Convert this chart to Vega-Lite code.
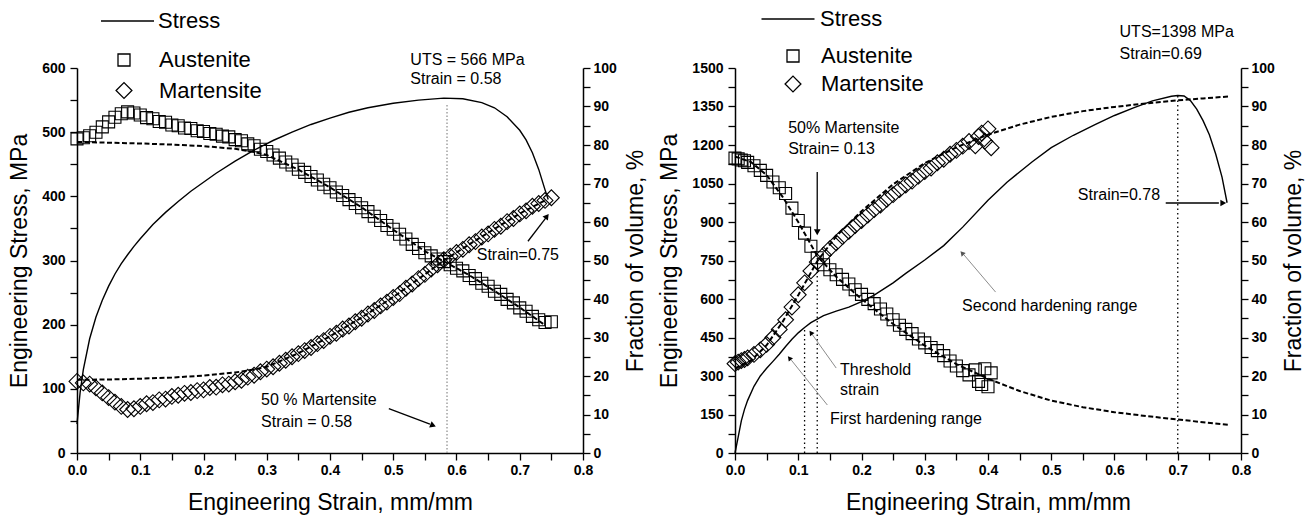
{
  "$schema": "https://vega.github.io/schema/vega-lite/v6.json",
  "background": "white",
  "padding": {"left": 8, "top": 7, "right": 5, "bottom": 5},
  "spacing": 10,
  "config": {
    "view": {"stroke": null},
    "font": "Liberation Sans",
    "axis": {"domainColor": "black", "domainWidth": 1.5, "tickColor": "black", "tickWidth": 1.3, "tickSize": 7, "tickCount": 100, "labelFont": "Liberation Sans", "labelFontSize": 14, "labelFontWeight": "bold", "labelColor": "black", "titleFont": "Liberation Sans", "titleFontSize": 23, "titleFontWeight": "normal", "titleColor": "black", "grid": false, "labelOverlap": false, "labelFlush": false},
    "legend": {"labelFont": "Liberation Sans", "labelFontSize": 22, "labelColor": "black", "padding": 0},
    "text": {"font": "Liberation Sans", "fontSize": 16, "color": "black"}
  },
  "datasets": {
    "stressL": [
      {"s":0,"v":45},{"s":0.005,"v":95},{"s":0.01,"v":130},{"s":0.02,"v":178},{"s":0.03,"v":212},{"s":0.04,"v":238},{"s":0.05,"v":260},{"s":0.06,"v":279},{"s":0.07,"v":295},{"s":0.08,"v":309},{"s":0.09,"v":322},{"s":0.10,"v":334},{"s":0.12,"v":356},{"s":0.14,"v":375},{"s":0.16,"v":392},{"s":0.18,"v":408},{"s":0.20,"v":422},{"s":0.22,"v":436},{"s":0.25,"v":455},{"s":0.28,"v":472},{"s":0.31,"v":487},{"s":0.34,"v":500},{"s":0.37,"v":512},{"s":0.40,"v":522},{"s":0.43,"v":531},{"s":0.46,"v":538},{"s":0.50,"v":545},{"s":0.54,"v":550},{"s":0.58,"v":553},{"s":0.61,"v":552},{"s":0.64,"v":546},{"s":0.66,"v":538},{"s":0.68,"v":524},{"s":0.70,"v":503},{"s":0.71,"v":488},{"s":0.72,"v":468},{"s":0.73,"v":442},{"s":0.74,"v":410},{"s":0.745,"v":395}
    ],
    "phaseL": [
      {"s":0.00,"Austenite":81.6,"Martensite":18.6},{"s":0.01,"Austenite":81.9,"Martensite":18.2},{"s":0.02,"Austenite":82.4,"Martensite":17.9},{"s":0.03,"Austenite":83.3,"Martensite":16.9},{"s":0.04,"Austenite":84.7,"Martensite":15.6},{"s":0.05,"Austenite":86.0,"Martensite":14.4},{"s":0.06,"Austenite":87.2,"Martensite":13.2},{"s":0.07,"Austenite":88.1,"Martensite":12.1},{"s":0.08,"Austenite":88.6,"Martensite":11.3},{"s":0.09,"Austenite":88.3,"Martensite":11.5},
      {"s":0.10,"Austenite":87.8,"Martensite":12.1},{"s":0.11,"Austenite":87.1,"Martensite":12.8},{"s":0.12,"Austenite":86.8,"Martensite":13.1},{"s":0.13,"Austenite":86.1,"Martensite":13.8},{"s":0.14,"Austenite":85.9,"Martensite":14.0},{"s":0.15,"Austenite":85.2,"Martensite":14.7},{"s":0.16,"Austenite":85.0,"Martensite":15.0},{"s":0.17,"Austenite":84.4,"Martensite":15.5},{"s":0.18,"Austenite":84.3,"Martensite":15.7},{"s":0.19,"Austenite":83.7,"Martensite":16.2},
      {"s":0.20,"Austenite":83.5,"Martensite":16.4},{"s":0.21,"Austenite":83.0,"Martensite":17.0},{"s":0.22,"Austenite":82.8,"Martensite":17.1},{"s":0.23,"Austenite":82.3,"Martensite":17.7},{"s":0.24,"Austenite":82.1,"Martensite":17.9},{"s":0.25,"Austenite":81.4,"Martensite":18.5},{"s":0.26,"Austenite":81.1,"Martensite":18.9},{"s":0.27,"Austenite":80.3,"Martensite":19.7},{"s":0.28,"Austenite":79.8,"Martensite":20.2},{"s":0.29,"Austenite":78.9,"Martensite":21.1},
      {"s":0.30,"Austenite":78.3,"Martensite":21.8},{"s":0.31,"Austenite":77.4,"Martensite":22.4},{"s":0.32,"Austenite":76.6,"Martensite":23.3},{"s":0.33,"Austenite":75.6,"Martensite":24.1},{"s":0.34,"Austenite":74.8,"Martensite":25.0},{"s":0.35,"Austenite":73.7,"Martensite":25.8},{"s":0.36,"Austenite":72.9,"Martensite":26.6},{"s":0.37,"Austenite":71.8,"Martensite":27.4},{"s":0.38,"Austenite":70.9,"Martensite":28.4},{"s":0.39,"Austenite":69.8,"Martensite":29.2},
      {"s":0.40,"Austenite":68.9,"Martensite":30.3},{"s":0.41,"Austenite":67.8,"Martensite":31.1},{"s":0.42,"Austenite":66.9,"Martensite":32.2},{"s":0.43,"Austenite":65.8,"Martensite":33.0},{"s":0.44,"Austenite":64.8,"Martensite":34.1},{"s":0.45,"Austenite":63.7,"Martensite":35.0},{"s":0.46,"Austenite":62.7,"Martensite":36.1},{"s":0.47,"Austenite":61.5,"Martensite":37.0},{"s":0.48,"Austenite":60.4,"Martensite":38.2},{"s":0.49,"Austenite":59.1,"Martensite":39.2},
      {"s":0.50,"Austenite":58.1,"Martensite":40.4},{"s":0.51,"Austenite":56.8,"Martensite":41.4},{"s":0.52,"Austenite":55.6,"Martensite":42.8},{"s":0.53,"Austenite":54.2,"Martensite":43.9},{"s":0.54,"Austenite":53.1,"Martensite":45.3},{"s":0.55,"Austenite":52.0,"Martensite":46.4},{"s":0.56,"Austenite":51.2,"Martensite":47.8},{"s":0.57,"Austenite":50.4,"Martensite":48.9},{"s":0.58,"Austenite":49.7,"Martensite":50.2},{"s":0.59,"Austenite":48.9,"Martensite":51.1},
      {"s":0.60,"Austenite":48.0,"Martensite":52.1},{"s":0.61,"Austenite":47.3,"Martensite":52.9},{"s":0.62,"Austenite":46.1,"Martensite":54.1},{"s":0.63,"Austenite":45.3,"Martensite":54.9},{"s":0.64,"Austenite":44.1,"Martensite":56.1},{"s":0.65,"Austenite":43.3,"Martensite":56.9},{"s":0.66,"Austenite":42.0,"Martensite":58.1},{"s":0.67,"Austenite":41.2,"Martensite":58.9},{"s":0.68,"Austenite":39.9,"Martensite":60.1},{"s":0.69,"Austenite":39.0,"Martensite":60.9},
      {"s":0.70,"Austenite":37.7,"Martensite":62.1},{"s":0.71,"Austenite":36.8,"Martensite":62.9},{"s":0.72,"Austenite":35.5,"Martensite":64.1},{"s":0.73,"Austenite":34.6,"Martensite":64.8},{"s":0.74,"Austenite":33.9,"Martensite":65.6},{"s":0.75,"Austenite":34.1,"Martensite":66.3}
    ],
    "fitL": [
      {"s":0.00,"Austenite":80.8,"Martensite":19.0},{"s":0.05,"Austenite":80.6,"Martensite":19.1},{"s":0.10,"Austenite":80.4,"Martensite":19.3},{"s":0.15,"Austenite":80.1,"Martensite":19.6},{"s":0.20,"Austenite":79.7,"Martensite":20.1},{"s":0.25,"Austenite":79.0,"Martensite":20.9},{"s":0.28,"Austenite":78.2,"Martensite":21.7},{"s":0.30,"Austenite":77.4,"Martensite":22.4},{"s":0.35,"Austenite":73.6,"Martensite":25.9},{"s":0.40,"Austenite":69.0,"Martensite":30.3},{"s":0.45,"Austenite":63.8,"Martensite":35.2},{"s":0.50,"Austenite":58.0,"Martensite":40.5},{"s":0.55,"Austenite":52.4,"Martensite":46.4},{"s":0.58,"Austenite":49.8,"Martensite":50.0},{"s":0.62,"Austenite":46.2,"Martensite":54.2},{"s":0.66,"Austenite":42.1,"Martensite":58.2},{"s":0.70,"Austenite":37.8,"Martensite":62.2},{"s":0.74,"Austenite":33.2,"Martensite":65.6}
    ],
    "stressR": [
      {"s":0,"v":0},{"s":0.005,"v":62},{"s":0.01,"v":125},{"s":0.015,"v":170},{"s":0.02,"v":205},{"s":0.03,"v":260},{"s":0.04,"v":300},{"s":0.05,"v":330},{"s":0.06,"v":357},{"s":0.07,"v":385},{"s":0.08,"v":415},{"s":0.09,"v":443},{"s":0.10,"v":468},{"s":0.11,"v":489},{"s":0.12,"v":508},{"s":0.13,"v":522},{"s":0.14,"v":535},{"s":0.16,"v":553},{"s":0.18,"v":568},{"s":0.20,"v":590},{"s":0.22,"v":615},{"s":0.25,"v":663},{"s":0.27,"v":700},{"s":0.30,"v":752},{"s":0.33,"v":808},{"s":0.36,"v":880},{"s":0.40,"v":985},{"s":0.43,"v":1055},{"s":0.47,"v":1135},{"s":0.50,"v":1190},{"s":0.535,"v":1238},{"s":0.57,"v":1280},{"s":0.60,"v":1315},{"s":0.63,"v":1345},{"s":0.66,"v":1372},{"s":0.69,"v":1390},{"s":0.70,"v":1393},{"s":0.71,"v":1391},{"s":0.72,"v":1373},{"s":0.73,"v":1340},{"s":0.74,"v":1295},{"s":0.75,"v":1240},{"s":0.76,"v":1165},{"s":0.77,"v":1075},{"s":0.778,"v":975}
    ],
    "phaseR": [
      {"s":0.000,"Austenite":76.6,"Martensite":23.2},{"s":0.005,"Austenite":76.4,"Martensite":23.6},{"s":0.010,"Austenite":76.1,"Martensite":24.0},{"s":0.015,"Austenite":75.9,"Martensite":24.3},{"s":0.020,"Austenite":75.5,"Martensite":24.7},{"s":0.030,"Austenite":74.6,"Martensite":25.6},{"s":0.040,"Austenite":73.4,"Martensite":26.8},{"s":0.050,"Austenite":72.1,"Martensite":28.2},{"s":0.060,"Austenite":70.4,"Martensite":30.0},{"s":0.070,"Austenite":68.9,"Martensite":32.1},
      {"s":0.080,"Austenite":67.4,"Martensite":34.6},{"s":0.090,"Austenite":63.6,"Martensite":37.9},{"s":0.100,"Austenite":60.4,"Martensite":41.1},{"s":0.110,"Austenite":57.1,"Martensite":44.2},{"s":0.120,"Austenite":53.7,"Martensite":47.3},{"s":0.130,"Austenite":50.7,"Martensite":49.6},{"s":0.140,"Austenite":48.9,"Martensite":51.4},{"s":0.150,"Austenite":47.6,"Martensite":53.1},{"s":0.160,"Austenite":46.3,"Martensite":54.6},{"s":0.170,"Austenite":45.1,"Martensite":56.2},
      {"s":0.180,"Austenite":43.9,"Martensite":57.6},{"s":0.190,"Austenite":42.4,"Martensite":59.1},{"s":0.200,"Austenite":41.2,"Martensite":60.4},{"s":0.210,"Austenite":39.9,"Martensite":61.8},{"s":0.220,"Austenite":38.8,"Martensite":63.2},{"s":0.230,"Austenite":37.4,"Martensite":64.4},{"s":0.240,"Austenite":36.1,"Martensite":65.9},{"s":0.250,"Austenite":34.6,"Martensite":67.1},{"s":0.260,"Austenite":33.2,"Martensite":68.4},{"s":0.270,"Austenite":32.1,"Martensite":69.6},
      {"s":0.280,"Austenite":31.0,"Martensite":70.6},{"s":0.290,"Austenite":29.6,"Martensite":71.9},{"s":0.300,"Austenite":28.6,"Martensite":73.1},{"s":0.310,"Austenite":27.4,"Martensite":74.0},{"s":0.320,"Austenite":26.6,"Martensite":75.4},{"s":0.330,"Austenite":25.3,"Martensite":76.3},{"s":0.340,"Austenite":23.9,"Martensite":77.6},{"s":0.350,"Austenite":22.6,"Martensite":78.6},{"s":0.360,"Austenite":21.4,"Martensite":79.7},{"s":0.370,"Austenite":20.3,"Martensite":80.9},
      {"s":0.380,"Austenite":21.6,"Martensite":79.8},{"s":0.385,"Austenite":18.6,"Martensite":82.2},{"s":0.390,"Austenite":17.8,"Martensite":83.1},{"s":0.395,"Austenite":21.9,"Martensite":81.0},{"s":0.400,"Austenite":17.2,"Martensite":84.2},{"s":0.405,"Austenite":20.8,"Martensite":79.3}
    ],
    "fitR": [
      {"s":0.000,"Austenite":77.0,"Martensite":22.0},{"s":0.025,"Austenite":75.6,"Martensite":24.0},{"s":0.050,"Austenite":72.2,"Martensite":28.0},{"s":0.075,"Austenite":66.6,"Martensite":34.0},{"s":0.100,"Austenite":60.0,"Martensite":41.0},{"s":0.130,"Austenite":51.2,"Martensite":49.8},{"s":0.160,"Austenite":45.8,"Martensite":56.3},{"s":0.200,"Austenite":40.0,"Martensite":62.8},{"s":0.250,"Austenite":33.5,"Martensite":69.8},{"s":0.300,"Austenite":27.9,"Martensite":75.3},{"s":0.350,"Austenite":23.1,"Martensite":79.4},{"s":0.400,"Austenite":19.3,"Martensite":82.7},{"s":0.450,"Austenite":16.1,"Martensite":85.3},{"s":0.500,"Austenite":13.6,"Martensite":87.3},{"s":0.550,"Austenite":11.9,"Martensite":88.8},{"s":0.600,"Austenite":10.6,"Martensite":89.9},{"s":0.650,"Austenite":9.6,"Martensite":90.8},{"s":0.700,"Austenite":8.7,"Martensite":91.6},{"s":0.740,"Austenite":8.0,"Martensite":92.1},{"s":0.780,"Austenite":7.3,"Martensite":92.6}
    ]
  },
  "resolve": {"scale": {"color": "independent", "shape": "independent", "size": "independent"}},
  "hconcat": [
    {
      "width": 506,
      "height": 385,
      "resolve": {"scale": {"y": "independent"}},
      "layer": [
        {
          "layer": [
            {
              "data": {"name": "stressL"},
              "mark": {"type": "line", "strokeWidth": 1.4},
              "encoding": {
                "x": {"field": "s", "type": "quantitative", "scale": {"domain": [0, 0.8], "nice": false},
                  "axis": {"title": "Engineering Strain, mm/mm", "values": [0,0.05,0.1,0.15,0.2,0.25,0.3,0.35,0.4,0.45,0.5,0.55,0.6,0.65,0.7,0.75,0.8], "tickCount": 100, "format": ".1f", "labelExpr": "round(datum.value*20)%2==0 ? datum.label : ''", "labelOverlap": false, "labelPadding": 3, "titlePadding": 14,
                    "encode": {"ticks": {"update": {"y2": {"signal": "round(datum.value*20)%2==1 ? 4 : 7"}}}}}},
                "y": {"field": "v", "type": "quantitative", "scale": {"domain": [0, 600], "nice": false},
                  "axis": {"title": "Engineering Stress, MPa", "values": [0,50,100,150,200,250,300,350,400,450,500,550,600], "tickCount": 100, "format": "d", "labelExpr": "datum.value%100==0 ? datum.label : ''", "labelOverlap": false, "labelPadding": 5, "titlePadding": 10,
                    "encode": {"ticks": {"update": {"x2": {"signal": "datum.value%100!=0 ? -4 : -7"}}}}}},
                "color": {"datum": "Stress", "type": "nominal", "scale": {"range": ["black"]},
                  "legend": {"title": null, "orient": "none", "legendX": 23, "legendY": -59, "symbolType": "stroke", "symbolSize": 2809, "clipHeight": 24, "symbolStrokeWidth": 1.5, "symbolStrokeColor": "black", "labelFontSize": 22, "labelOffset": 3, "padding": 0}}
              }
            },
            {
              "data": {"values": [{"s": 0.585, "lo": 0, "hi": 545}]},
              "mark": {"type": "rule", "color": "#8a8a8a", "strokeWidth": 1.2, "strokeDash": [1.5, 2]},
              "encoding": {
                "x": {"field": "s", "type": "quantitative", "scale": {"domain": [0, 0.8], "nice": false}},
                "y": {"field": "lo", "type": "quantitative", "scale": {"domain": [0, 600], "nice": false}},
                "y2": {"field": "hi"}
              }
            },
            {
              "data": {"values": [{"s1": 0.713, "v1": 330, "s2": 0.741, "v2": 366}, {"s1": 0.493, "v1": 69, "s2": 0.558, "v2": 45}]},
              "mark": {"type": "rule", "color": "black", "strokeWidth": 1.3},
              "encoding": {
                "x": {"field": "s1", "type": "quantitative", "scale": {"domain": [0, 0.8], "nice": false}},
                "y": {"field": "v1", "type": "quantitative", "scale": {"domain": [0, 600], "nice": false}},
                "x2": {"field": "s2"},
                "y2": {"field": "v2"}
              }
            },
            {
              "data": {"values": [{"s": 0.743, "v": 369}]},
              "mark": {"type": "point", "shape": "triangle-up", "filled": true, "color": "black", "opacity": 1, "size": 45, "angle": 37},
              "encoding": {
                "x": {"field": "s", "type": "quantitative", "scale": {"domain": [0, 0.8], "nice": false}},
                "y": {"field": "v", "type": "quantitative", "scale": {"domain": [0, 600], "nice": false}}
              }
            },
            {
              "data": {"values": [{"s": 0.563, "v": 43}]},
              "mark": {"type": "point", "shape": "triangle-up", "filled": true, "color": "black", "opacity": 1, "size": 45, "angle": 111},
              "encoding": {
                "x": {"field": "s", "type": "quantitative", "scale": {"domain": [0, 0.8], "nice": false}},
                "y": {"field": "v", "type": "quantitative", "scale": {"domain": [0, 600], "nice": false}}
              }
            },
            {
              "data": {"values": [{"s": 0.527, "v": 612, "t": "UTS = 566 MPa"}, {"s": 0.527, "v": 583, "t": "Strain = 0.58"}, {"s": 0.632, "v": 309, "t": "Strain=0.75"}, {"s": 0.291, "v": 83, "t": "50 % Martensite"}, {"s": 0.291, "v": 48, "t": "Strain = 0.58"}]},
              "mark": {"type": "text", "align": "left", "baseline": "middle", "fontSize": 16},
              "encoding": {
                "x": {"field": "s", "type": "quantitative", "scale": {"domain": [0, 0.8], "nice": false}},
                "y": {"field": "v", "type": "quantitative", "scale": {"domain": [0, 600], "nice": false}},
                "text": {"field": "t"}
              }
            }
          ]
        },
        {
          "layer": [
            {
              "data": {"name": "phaseL"},
              "transform": [{"fold": ["Austenite", "Martensite"], "as": ["phase", "frac"]}],
              "mark": {"type": "point", "filled": false, "color": "black", "strokeWidth": 1.1, "opacity": 1},
              "encoding": {
                "x": {"field": "s", "type": "quantitative", "scale": {"domain": [0, 0.8], "nice": false}},
                "y": {"field": "frac", "type": "quantitative", "scale": {"domain": [0, 100], "nice": false},
                  "axis": {"orient": "right", "title": "Fraction of volume, %", "titleAngle": 270, "titleBaseline": "top", "values": [0,5,10,15,20,25,30,35,40,45,50,55,60,65,70,75,80,85,90,95,100], "tickCount": 100, "labelExpr": "datum.value%10==0 ? datum.label : ''", "labelOverlap": false, "labelPadding": 3, "titlePadding": 8,
                    "encode": {"ticks": {"update": {"x2": {"signal": "datum.value%10!=0 ? 4 : 7"}}}}}},
                "shape": {"field": "phase", "type": "nominal", "scale": {"domain": ["Austenite", "Martensite"], "range": ["square", "diamond"]},
                  "legend": {"title": null, "orient": "none", "legendX": 36, "legendY": -19, "labelFontSize": 22, "labelOffset": 24, "rowPadding": 8.5, "symbolStrokeColor": "black", "symbolFillColor": "transparent", "symbolStrokeWidth": 1.3, "padding": 0}},
                "size": {"field": "phase", "type": "nominal", "scale": {"domain": ["Austenite", "Martensite"], "range": [144, 250]},
                  "legend": {"title": null, "orient": "none", "legendX": 36, "legendY": -19, "labelFontSize": 22, "labelOffset": 24, "rowPadding": 8.5, "symbolStrokeColor": "black", "symbolFillColor": "transparent", "symbolStrokeWidth": 1.3, "padding": 0}}
              }
            },
            {
              "data": {"name": "fitL"},
              "transform": [{"fold": ["Austenite", "Martensite"], "as": ["phase", "frac"]}],
              "mark": {"type": "line", "color": "black", "strokeWidth": 2, "strokeDash": [5, 2.5]},
              "encoding": {
                "x": {"field": "s", "type": "quantitative", "scale": {"domain": [0, 0.8], "nice": false}},
                "y": {"field": "frac", "type": "quantitative", "scale": {"domain": [0, 100], "nice": false}},
                "detail": {"field": "phase", "type": "nominal"}
              }
            }
          ]
        }
      ]
    },
    {
      "width": 506,
      "height": 385,
      "resolve": {"scale": {"y": "independent"}},
      "layer": [
        {
          "layer": [
            {
              "data": {"name": "stressR"},
              "mark": {"type": "line", "strokeWidth": 1.4},
              "encoding": {
                "x": {"field": "s", "type": "quantitative", "scale": {"domain": [0, 0.8], "nice": false},
                  "axis": {"title": "Engineering Strain, mm/mm", "values": [0,0.05,0.1,0.15,0.2,0.25,0.3,0.35,0.4,0.45,0.5,0.55,0.6,0.65,0.7,0.75,0.8], "tickCount": 100, "format": ".1f", "labelExpr": "round(datum.value*20)%2==0 ? datum.label : ''", "labelOverlap": false, "labelPadding": 3, "titlePadding": 14,
                    "encode": {"ticks": {"update": {"y2": {"signal": "round(datum.value*20)%2==1 ? 4 : 7"}}}}}},
                "y": {"field": "v", "type": "quantitative", "scale": {"domain": [0, 1500], "nice": false},
                  "axis": {"title": "Engineering Stress, MPa", "values": [0,75,150,225,300,375,450,525,600,675,750,825,900,975,1050,1125,1200,1275,1350,1425,1500], "tickCount": 100, "format": "d", "labelExpr": "datum.value%150==0 ? datum.label : ''", "labelOverlap": false, "labelPadding": 5, "titlePadding": 10,
                    "encode": {"ticks": {"update": {"x2": {"signal": "datum.value%150!=0 ? -4 : -7"}}}}}},
                "color": {"datum": "Stress", "type": "nominal", "scale": {"range": ["black"]},
                  "legend": {"title": null, "orient": "none", "legendX": 25.5, "legendY": -61, "symbolType": "stroke", "symbolSize": 2809, "clipHeight": 24, "symbolStrokeWidth": 1.5, "symbolStrokeColor": "black", "labelFontSize": 22, "labelOffset": 4.5, "padding": 0}}
              }
            },
            {
              "data": {"values": [{"s": 0.11, "lo": 0, "hi": 489}, {"s": 0.13, "lo": 0, "hi": 760}, {"s": 0.70, "lo": 0, "hi": 1393}]},
              "mark": {"type": "rule", "color": "black", "strokeWidth": 1.3, "strokeDash": [1.5, 3]},
              "encoding": {
                "x": {"field": "s", "type": "quantitative", "scale": {"domain": [0, 0.8], "nice": false}},
                "y": {"field": "lo", "type": "quantitative", "scale": {"domain": [0, 1500], "nice": false}},
                "y2": {"field": "hi"}
              }
            },
            {
              "data": {"values": [{"s1": 0.13, "v1": 1095, "s2": 0.13, "v2": 870}, {"s1": 0.681, "v1": 974, "s2": 0.765, "v2": 974}]},
              "mark": {"type": "rule", "color": "black", "strokeWidth": 1.3},
              "encoding": {
                "x": {"field": "s1", "type": "quantitative", "scale": {"domain": [0, 0.8], "nice": false}},
                "y": {"field": "v1", "type": "quantitative", "scale": {"domain": [0, 1500], "nice": false}},
                "x2": {"field": "s2"},
                "y2": {"field": "v2"}
              }
            },
            {
              "data": {"values": [{"s1": 0.412, "v1": 627, "s2": 0.362, "v2": 772}, {"s1": 0.160, "v1": 331, "s2": 0.122, "v2": 462}, {"s1": 0.146, "v1": 187, "s2": 0.089, "v2": 362}]},
              "mark": {"type": "rule", "color": "#8c8c8c", "strokeWidth": 1},
              "encoding": {
                "x": {"field": "s1", "type": "quantitative", "scale": {"domain": [0, 0.8], "nice": false}},
                "y": {"field": "v1", "type": "quantitative", "scale": {"domain": [0, 1500], "nice": false}},
                "x2": {"field": "s2"},
                "y2": {"field": "v2"}
              }
            },
            {
              "data": {"values": [{"s": 0.13, "v": 860}]},
              "mark": {"type": "point", "shape": "triangle-up", "filled": true, "color": "black", "opacity": 1, "size": 45, "angle": 180},
              "encoding": {
                "x": {"field": "s", "type": "quantitative", "scale": {"domain": [0, 0.8], "nice": false}},
                "y": {"field": "v", "type": "quantitative", "scale": {"domain": [0, 1500], "nice": false}}
              }
            },
            {
              "data": {"values": [{"s": 0.772, "v": 974}]},
              "mark": {"type": "point", "shape": "triangle-up", "filled": true, "color": "black", "opacity": 1, "size": 45, "angle": 90},
              "encoding": {
                "x": {"field": "s", "type": "quantitative", "scale": {"domain": [0, 0.8], "nice": false}},
                "y": {"field": "v", "type": "quantitative", "scale": {"domain": [0, 1500], "nice": false}}
              }
            },
            {
              "data": {"values": [{"s": 0.359, "v": 779}]},
              "mark": {"type": "point", "shape": "triangle-up", "filled": true, "color": "#555555", "opacity": 1, "size": 30, "angle": 319},
              "encoding": {
                "x": {"field": "s", "type": "quantitative", "scale": {"domain": [0, 0.8], "nice": false}},
                "y": {"field": "v", "type": "quantitative", "scale": {"domain": [0, 1500], "nice": false}}
              }
            },
            {
              "data": {"values": [{"s": 0.120, "v": 469}]},
              "mark": {"type": "point", "shape": "triangle-up", "filled": true, "color": "black", "opacity": 1, "size": 30, "angle": 325},
              "encoding": {
                "x": {"field": "s", "type": "quantitative", "scale": {"domain": [0, 0.8], "nice": false}},
                "y": {"field": "v", "type": "quantitative", "scale": {"domain": [0, 1500], "nice": false}}
              }
            },
            {
              "data": {"values": [{"s": 0.086, "v": 370}]},
              "mark": {"type": "point", "shape": "triangle-up", "filled": true, "color": "black", "opacity": 1, "size": 30, "angle": 321},
              "encoding": {
                "x": {"field": "s", "type": "quantitative", "scale": {"domain": [0, 0.8], "nice": false}},
                "y": {"field": "v", "type": "quantitative", "scale": {"domain": [0, 1500], "nice": false}}
              }
            },
            {
              "data": {"values": [{"s": 0.608, "v": 1640, "t": "UTS=1398 MPa"}, {"s": 0.608, "v": 1554, "t": "Strain=0.69"}, {"s": 0.084, "v": 1266, "t": "50% Martensite"}, {"s": 0.084, "v": 1184, "t": "Strain= 0.13"}, {"s": 0.542, "v": 1005, "t": "Strain=0.78"}, {"s": 0.359, "v": 574, "t": "Second hardening range"}, {"s": 0.166, "v": 323, "t": "Threshold"}, {"s": 0.166, "v": 245, "t": "strain"}, {"s": 0.150, "v": 132, "t": "First hardening range"}]},
              "mark": {"type": "text", "align": "left", "baseline": "middle", "fontSize": 16},
              "encoding": {
                "x": {"field": "s", "type": "quantitative", "scale": {"domain": [0, 0.8], "nice": false}},
                "y": {"field": "v", "type": "quantitative", "scale": {"domain": [0, 1500], "nice": false}},
                "text": {"field": "t"}
              }
            }
          ]
        },
        {
          "layer": [
            {
              "data": {"name": "phaseR"},
              "transform": [{"fold": ["Austenite", "Martensite"], "as": ["phase", "frac"]}],
              "mark": {"type": "point", "filled": false, "color": "black", "strokeWidth": 1.1, "opacity": 1},
              "encoding": {
                "x": {"field": "s", "type": "quantitative", "scale": {"domain": [0, 0.8], "nice": false}},
                "y": {"field": "frac", "type": "quantitative", "scale": {"domain": [0, 100], "nice": false},
                  "axis": {"orient": "right", "title": "Fraction of volume, %", "titleAngle": 270, "titleBaseline": "top", "values": [0,5,10,15,20,25,30,35,40,45,50,55,60,65,70,75,80,85,90,95,100], "tickCount": 100, "labelExpr": "datum.value%10==0 ? datum.label : ''", "labelOverlap": false, "labelPadding": 3, "titlePadding": 8,
                    "encode": {"ticks": {"update": {"x2": {"signal": "datum.value%10!=0 ? 4 : 7"}}}}}},
                "shape": {"field": "phase", "type": "nominal", "scale": {"domain": ["Austenite", "Martensite"], "range": ["square", "diamond"]},
                  "legend": {"title": null, "orient": "none", "legendX": 47, "legendY": -23, "labelFontSize": 22, "labelOffset": 17, "rowPadding": 6, "symbolStrokeColor": "black", "symbolFillColor": "transparent", "symbolStrokeWidth": 1.3, "padding": 0}},
                "size": {"field": "phase", "type": "nominal", "scale": {"domain": ["Austenite", "Martensite"], "range": [144, 250]},
                  "legend": {"title": null, "orient": "none", "legendX": 47, "legendY": -23, "labelFontSize": 22, "labelOffset": 17, "rowPadding": 6, "symbolStrokeColor": "black", "symbolFillColor": "transparent", "symbolStrokeWidth": 1.3, "padding": 0}}
              }
            },
            {
              "data": {"name": "fitR"},
              "transform": [{"fold": ["Austenite", "Martensite"], "as": ["phase", "frac"]}],
              "mark": {"type": "line", "color": "black", "strokeWidth": 2, "strokeDash": [5, 2.5]},
              "encoding": {
                "x": {"field": "s", "type": "quantitative", "scale": {"domain": [0, 0.8], "nice": false}},
                "y": {"field": "frac", "type": "quantitative", "scale": {"domain": [0, 100], "nice": false}},
                "detail": {"field": "phase", "type": "nominal"}
              }
            }
          ]
        }
      ]
    }
  ]
}
